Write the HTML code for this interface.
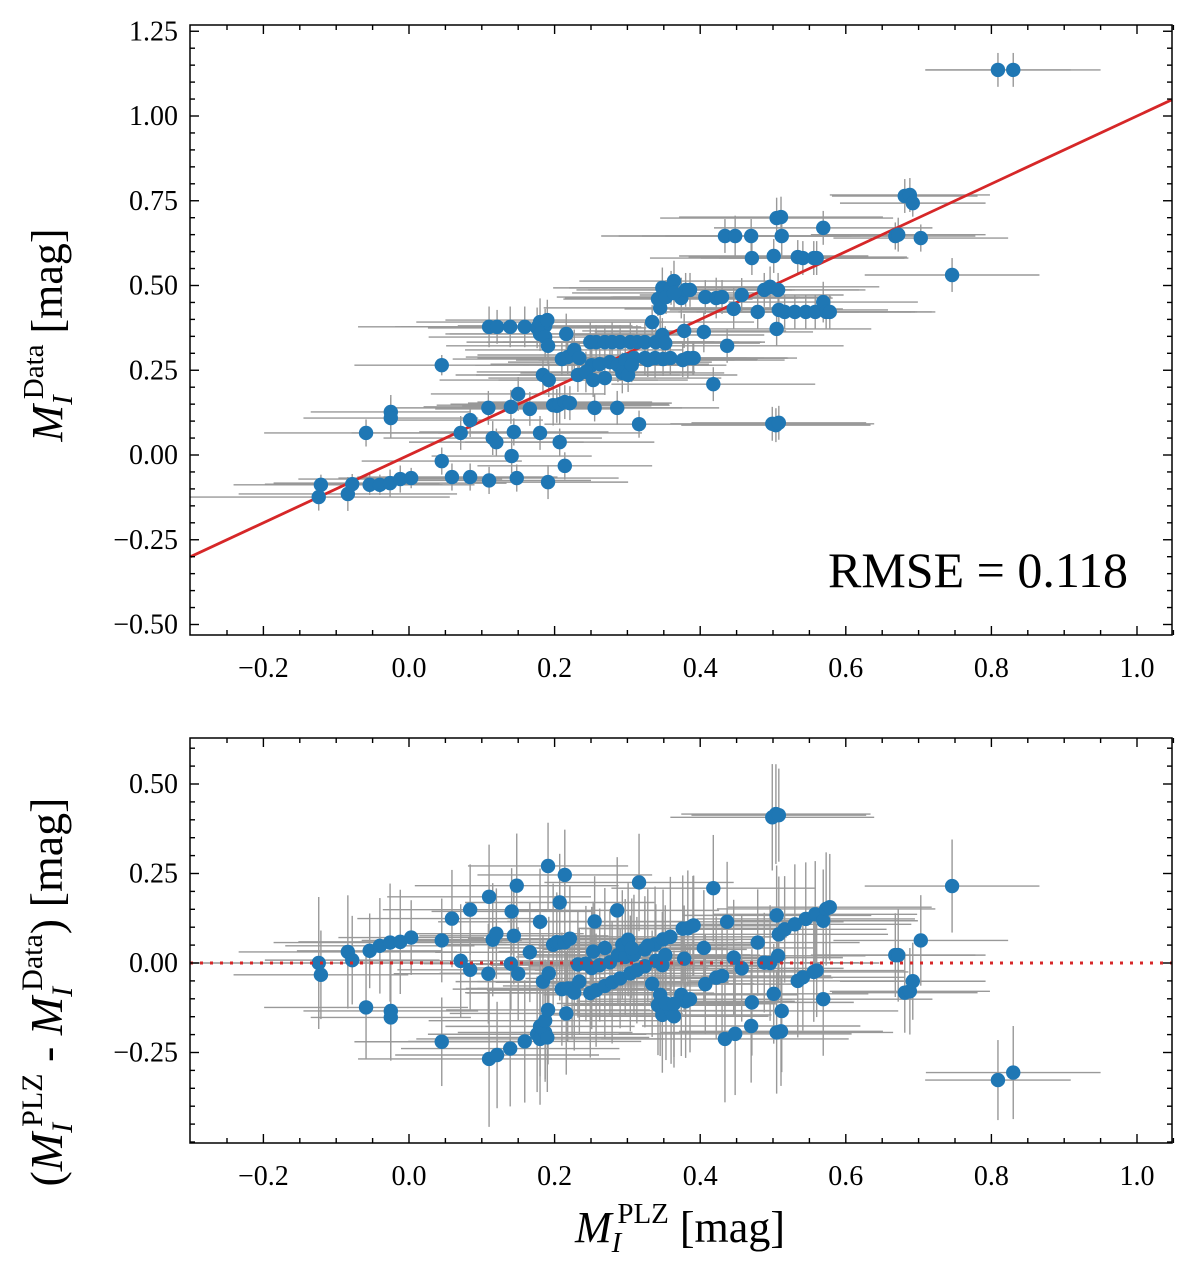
<!DOCTYPE html>
<html><head><meta charset="utf-8"><title>PLZ vs Data</title>
<style>
html,body{margin:0;padding:0;background:#fff;}
svg{display:block;font-family:"Liberation Serif",serif;}
</style></head>
<body>
<svg id="chart" width="1200" height="1276" viewBox="0 0 1200 1276" xmlns="http://www.w3.org/2000/svg">
<defs>
<clipPath id="clipTop"><rect x="190" y="25" width="982" height="610"/></clipPath>
<clipPath id="clipBot"><rect x="190" y="738" width="982" height="405"/></clipPath>
</defs>
<g id="topPanel"></g>
<g id="botPanel"></g>
<text x="1128" y="587" text-anchor="end" font-size="50">RMSE = 0.118</text>
<text transform="translate(62,335) rotate(-90)" text-anchor="middle" font-size="44"><tspan font-style="italic">M</tspan><tspan font-size="29" font-style="italic" dy="10">I</tspan><tspan font-size="29" dx="-4" dy="-29">Data</tspan><tspan dy="19"> [mag]</tspan></text>
<text transform="translate(62,992) rotate(-90)" text-anchor="middle" font-size="46">(<tspan font-style="italic">M</tspan><tspan font-size="30" font-style="italic" dy="10">I</tspan><tspan font-size="30" dx="-4" dy="-30">PLZ</tspan><tspan dy="20"> - </tspan><tspan font-style="italic">M</tspan><tspan font-size="30" font-style="italic" dy="10">I</tspan><tspan font-size="30" dx="-4" dy="-30">Data</tspan><tspan dy="20">) [mag]</tspan></text>
<text x="680" y="1242" text-anchor="middle" font-size="44"><tspan font-style="italic">M</tspan><tspan font-size="29" font-style="italic" dy="10">I</tspan><tspan font-size="29" dx="-4" dy="-29">PLZ</tspan><tspan dy="19"> [mag]</tspan></text>
</svg>
<script>
const xs=[-0.121,-0.124,-0.084,-0.078,-0.059,-0.054,-0.040,-0.026,-0.025,-0.025,
-0.012,0.003,0.045,0.045,0.059,0.071,0.084,0.084,0.110,0.109,
0.115,0.120,0.110,0.121,0.139,0.140,0.144,0.141,0.148,0.150,
0.159,0.166,0.176,0.180,0.187,0.190,0.180,0.187,0.184,0.191,
0.192,0.191,0.180,0.198,0.203,0.207,0.214,0.221,0.207,0.214,
0.210,0.216,0.218,0.224,0.227,0.234,0.249,0.257,0.269,0.279,
0.290,0.304,0.313,0.324,0.339,0.348,0.352,0.251,0.262,0.276,
0.287,0.297,0.309,0.324,0.338,0.349,0.359,0.376,0.383,0.391,
0.232,0.243,0.253,0.269,0.293,0.301,0.306,0.255,0.286,0.316,
0.328,0.334,0.345,0.342,0.348,0.360,0.374,0.380,0.386,0.364,
0.353,0.364,0.407,0.422,0.430,0.457,0.488,0.496,0.507,0.378,
0.390,0.405,0.418,0.437,0.446,0.479,0.505,0.508,0.516,0.530,
0.545,0.558,0.569,0.573,0.578,0.434,0.448,0.470,0.471,0.501,
0.512,0.534,0.541,0.556,0.560,0.569,0.505,0.511,0.504,0.499,
0.508,0.668,0.672,0.681,0.688,0.692,0.703,0.746,0.809,0.830];
const ys=[-0.088,-0.124,-0.115,-0.086,0.065,-0.088,-0.088,-0.083,0.127,0.109,
-0.071,-0.068,0.265,-0.018,-0.065,0.065,-0.065,0.103,-0.075,0.139,
0.050,0.038,0.378,0.378,0.378,0.142,0.068,-0.003,-0.068,0.180,
0.378,0.136,0.375,0.392,0.381,0.398,0.357,0.348,0.236,0.322,
0.221,-0.080,0.065,0.147,0.145,0.150,0.156,0.153,0.038,-0.032,
0.283,0.357,0.289,0.295,0.310,0.286,0.333,0.333,0.333,0.333,
0.333,0.333,0.333,0.333,0.333,0.354,0.330,0.265,0.268,0.274,
0.265,0.280,0.286,0.286,0.286,0.283,0.286,0.280,0.286,0.286,
0.236,0.245,0.221,0.227,0.242,0.236,0.265,0.139,0.139,0.091,
0.280,0.392,0.434,0.460,0.493,0.493,0.463,0.487,0.487,0.513,
0.466,0.478,0.466,0.463,0.466,0.472,0.487,0.496,0.487,0.366,
0.286,0.363,0.209,0.322,0.431,0.422,0.372,0.428,0.422,0.422,
0.422,0.422,0.451,0.422,0.422,0.646,0.646,0.646,0.581,0.587,
0.646,0.584,0.581,0.581,0.581,0.670,0.699,0.702,0.088,0.092,
0.095,0.646,0.650,0.764,0.767,0.743,0.640,0.531,1.136,1.136];
const xErr=[0.12,0.18,0.15,0.12,0.14,0.10,0.13,0.16,0.11,0.12,
0.14,0.10,0.12,0.11,0.13,0.15,0.12,0.10,0.14,0.13,
0.15,0.12,0.18,0.14,0.15,0.12,0.13,0.11,0.14,0.12,
0.16,0.13,0.15,0.17,0.12,0.14,0.13,0.16,0.12,0.14,
0.15,0.11,0.14,0.16,0.13,0.15,0.12,0.14,0.13,0.12,
0.15,0.16,0.14,0.13,0.15,0.14,0.17,0.15,0.14,0.16,
0.13,0.15,0.14,0.16,0.15,0.14,0.13,0.16,0.15,0.14,
0.13,0.15,0.16,0.14,0.15,0.13,0.16,0.14,0.15,0.13,
0.14,0.15,0.13,0.16,0.14,0.15,0.13,0.12,0.14,0.13,
0.15,0.14,0.16,0.13,0.15,0.14,0.16,0.15,0.14,0.13,
0.15,0.14,0.13,0.16,0.15,0.14,0.13,0.15,0.12,0.14,
0.13,0.15,0.14,0.16,0.15,0.14,0.13,0.15,0.14,0.16,
0.15,0.14,0.13,0.15,0.14,0.17,0.16,0.15,0.14,0.13,
0.16,0.15,0.14,0.13,0.12,0.15,0.16,0.14,0.13,0.14,
0.12,0.11,0.12,0.10,0.11,0.10,0.12,0.12,0.10,0.12];
const yErr=[0.03,0.04,0.05,0.03,0.04,0.03,0.03,0.04,0.05,0.06,
0.04,0.03,0.03,0.04,0.04,0.05,0.04,0.05,0.04,0.05,
0.05,0.04,0.06,0.05,0.06,0.05,0.04,0.05,0.04,0.05,
0.06,0.05,0.06,0.07,0.05,0.06,0.05,0.06,0.05,0.06,
0.05,0.05,0.05,0.06,0.05,0.06,0.05,0.05,0.04,0.04,
0.05,0.06,0.05,0.05,0.06,0.05,0.06,0.05,0.05,0.06,
0.05,0.06,0.05,0.06,0.05,0.05,0.05,0.06,0.05,0.05,
0.05,0.06,0.05,0.05,0.06,0.05,0.05,0.05,0.06,0.05,
0.05,0.06,0.05,0.05,0.06,0.05,0.05,0.04,0.05,0.04,
0.05,0.05,0.06,0.05,0.06,0.05,0.06,0.05,0.05,0.06,
0.05,0.05,0.05,0.06,0.05,0.05,0.05,0.06,0.05,0.05,
0.05,0.06,0.05,0.05,0.06,0.05,0.05,0.06,0.05,0.05,
0.05,0.05,0.06,0.05,0.05,0.05,0.06,0.05,0.05,0.05,
0.06,0.05,0.05,0.05,0.05,0.05,0.06,0.06,0.05,0.05,
0.05,0.04,0.05,0.05,0.05,0.04,0.04,0.05,0.05,0.05];
const xTicks=[-0.2,0.0,0.2,0.4,0.6,0.8,1.0];
const xTickLabels=["\u22120.2","0.0","0.2","0.4","0.6","0.8","1.0"];
const topYTicks=[-0.5,-0.25,0,0.25,0.5,0.75,1.0,1.25];
const topYTickLabels=["\u22120.50","\u22120.25","0.00","0.25","0.50","0.75","1.00","1.25"];
const botYTicks=[-0.25,0,0.25,0.5];
const botYTickLabels=["\u22120.25","0.00","0.25","0.50"];
const fitLine=[-0.3,1.05];

const NS="http://www.w3.org/2000/svg";
const L=190,R=1172;
const pTop={T:25,B:635}, pBot={T:738,B:1143};
const sx=x=>409+728*x;
const syT=y=>455-339*y;
const syB=y=>963-358*y;
function mk(tag,attrs,parent){const e=document.createElementNS(NS,tag);for(const k in attrs)e.setAttribute(k,attrs[k]);parent.appendChild(e);return e;}

function axes(g,p,sy,yTicks,yLabels,yMin,yMax,name){
  const xMin=-0.3,xMax=1.05;
  for(let i=-6;i<=21;i++){const v=i*0.05;if(v<xMin||v>xMax)continue;const X=sx(v);const major=Math.abs(v*5-Math.round(v*5))<1e-6;const len=major?9:5;
    const t1=mk('line',{x1:X,x2:X,y1:p.B,y2:p.B-len,stroke:'#000','stroke-width':1.4},g);
    
    
    const t2=mk('line',{x1:X,x2:X,y1:p.T,y2:p.T+len,stroke:'#000','stroke-width':1.4},g);
    
    }
  for(let i=-12;i<=26;i++){const v=i*0.05;if(v<yMin||v>yMax)continue;const Y=sy(v);const major=yTicks.some(t=>Math.abs(t-v)<1e-6);const len=major?9:5;
    const t1=mk('line',{x1:L,x2:L+len,y1:Y,y2:Y,stroke:'#000','stroke-width':1.4},g);
    
    
    const t2=mk('line',{x1:R,x2:R-len,y1:Y,y2:Y,stroke:'#000','stroke-width':1.4},g);
    
    }
  xTicks.forEach((v,i)=>{const t=mk('text',{x:sx(v),y:p.B+42,'text-anchor':'middle','font-size':28},g);t.textContent=xTickLabels[i];
    
    });
  yTicks.forEach((v,i)=>{const t=mk('text',{x:L-12,y:sy(v)+9,'text-anchor':'end','font-size':28},g);t.textContent=yLabels[i];
    
    });
  const f=mk('rect',{x:L,y:p.T,width:R-L,height:p.B-p.T,fill:'none',stroke:'#000','stroke-width':1.5},g);
  
  
}

function points(g,clip,sy,yOf,yeOf,name){
  const eg=mk('g',{'clip-path':'url(#'+clip+')'},g);
  
  
  xs.forEach((x,i)=>{const y=yOf(i),ye=yeOf(i);
    const h=mk('line',{x1:sx(x-xErr[i]),x2:sx(x+xErr[i]),y1:sy(y),y2:sy(y),stroke:'#999','stroke-width':1.4},eg);
    
    
    const v=mk('line',{x1:sx(x),x2:sx(x),y1:sy(y-ye),y2:sy(y+ye),stroke:'#999','stroke-width':1.4},eg);
    
    });
  return eg;
}
function dots(g,clip,sy,yOf,name){
  const pg=mk('g',{'clip-path':'url(#'+clip+')'},g);
  
  
  xs.forEach((x,i)=>{const c=mk('circle',{cx:sx(x),cy:sy(yOf(i)),r:7.2,fill:'#1f77b4'},pg);
    
    });
}

const gT=document.getElementById('topPanel');
points(gT,'clipTop',syT,i=>ys[i],i=>yErr[i],'top');
const fl=mk('line',{x1:sx(fitLine[0]),y1:syT(fitLine[0]),x2:sx(fitLine[1]),y2:syT(fitLine[1]),stroke:'#d62728','stroke-width':2.8,'clip-path':'url(#clipTop)'},gT);


dots(gT,'clipTop',syT,i=>ys[i],'top');
axes(gT,pTop,syT,topYTicks,topYTickLabels,-0.53,1.27,'top');

const gB=document.getElementById('botPanel');
points(gB,'clipBot',syB,i=>xs[i]-ys[i],i=>Math.sqrt(xErr[i]*xErr[i]+yErr[i]*yErr[i]),'bottom');
dots(gB,'clipBot',syB,i=>xs[i]-ys[i],'bottom');
const zl=mk('line',{x1:L,x2:R,y1:syB(0),y2:syB(0),stroke:'#d62728','stroke-width':3,'stroke-dasharray':'3 7'},gB);


axes(gB,pBot,syB,botYTicks,botYTickLabels,-0.5,0.62,'bottom');
</script>
</body></html>
